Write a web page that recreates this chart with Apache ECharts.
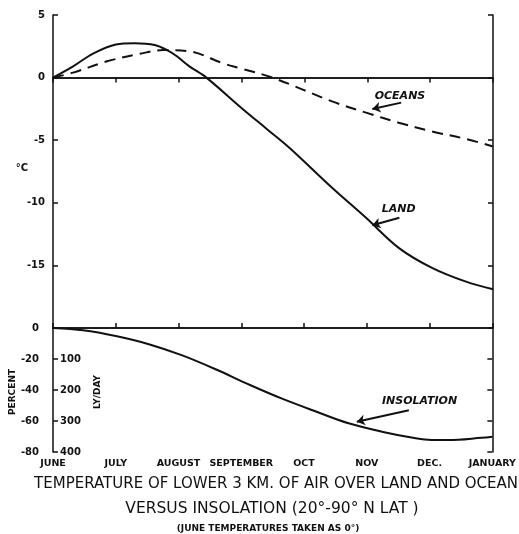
<!DOCTYPE html>
<html>
<head>
<meta charset="utf-8">
<script src="https://cdn.jsdelivr.net/npm/echarts@6/dist/echarts.min.js"></script>
<style>
html,body{margin:0;padding:0;background:#fff;}
#c{width:519px;height:534px;}
</style>
</head>
<body>
<div id="c"></div>
<script>
// ---- data (x in months after June 1) ----
const months = ['JUNE','JULY','AUGUST','SEPTEMBER','OCT','NOV','DEC.','JANUARY'];
const landMonth = [0, 0.32, 0.63, 1.0, 1.3, 1.62, 1.83, 1.97, 2.17, 2.44, 2.97, 3.4, 3.76, 4.44, 4.98, 5.5, 6.03, 6.57, 7];
const landTemp  = [0, 0.9, 1.9, 2.65, 2.75, 2.6, 2.15, 1.7, 0.9, 0, -2.3, -4.1, -5.6, -8.8, -11.2, -13.6, -15.2, -16.3, -16.9];
const oceanMonth = [0, 0.32, 0.86, 1.38, 1.75, 2.17, 2.7, 2.97, 3.49, 4.44, 4.98, 5.5, 6.03, 6.57, 7];
const oceanTemp  = [0, 0.4, 1.3, 1.9, 2.2, 2.1, 1.15, 0.75, 0, -1.9, -2.8, -3.6, -4.3, -4.9, -5.5];
const insolMonth = [0, 0.48, 1.0, 1.54, 2.06, 2.6, 3.13, 3.65, 4.19, 4.71, 5.24, 5.78, 6.03, 6.3, 6.83, 7];
const insolPct   = [0, -1.5, -5.2, -10.6, -17.7, -26.8, -36.6, -45.6, -53.9, -61.5, -66.9, -71.2, -72.3, -72.3, -70.8, -70.1];
const tempTicks = [5, 0, -5, -10, -15];
const pctTicks = [0, -20, -40, -60, -80];
const lyTicks = [100, 200, 300, 400];

const zip = (a, b) => a.map((v, i) => [v, b[i]]);
const ink = '#111';
const axisLine = {show: true, lineStyle: {color: ink, width: 1.5}};
const tick = {show: true, inside: true, length: 5, lineStyle: {color: ink, width: 1.5}};
const lblFont = {fontFamily: 'DejaVu Sans', fontWeight: 'bold', fontSize: 10, color: ink};

const chart = echarts.init(document.getElementById('c'), null, {renderer: 'canvas'});
const option = {
  backgroundColor: '#fff',
  animation: false,
  grid: [
    {left: 53, top: 15, width: 440, height: 313},
    {left: 53, top: 328, width: 440, height: 124}
  ],
  xAxis: [
    {gridIndex: 0, type: 'value', min: 0, max: 7, interval: 1, position: 'top',
     axisLine, axisTick: tick, axisLabel: {show: false}, splitLine: {show: false}},
    {gridIndex: 1, type: 'value', min: 0, max: 7, interval: 1, position: 'bottom',
     axisLine, axisTick: tick, splitLine: {show: false},
     axisLabel: Object.assign({margin: 7, formatter: v => months[v] || ''}, lblFont, {fontSize: 9.5})},
    {gridIndex: 1, type: 'value', min: 0, max: 7, interval: 1, position: 'top',
     axisLine, axisTick: {show: false}, axisLabel: {show: false}, splitLine: {show: false}}
  ],
  yAxis: [
    {gridIndex: 0, type: 'value', min: -20, max: 5, interval: 5, position: 'left',
     axisLine, axisTick: tick, splitLine: {show: false},
     axisLabel: Object.assign({margin: 8, formatter: v => tempTicks.includes(v) ? String(v) : ''}, lblFont)},
    {gridIndex: 0, type: 'value', min: -20, max: 5, interval: 5, position: 'right',
     axisLine, axisTick: tick, axisLabel: {show: false}, splitLine: {show: false}},
    {gridIndex: 1, type: 'value', min: -80, max: 0, interval: 20, position: 'left',
     axisLine, axisTick: tick, splitLine: {show: false},
     axisLabel: Object.assign({margin: 14, formatter: v => pctTicks.includes(v) ? String(v) : ''}, lblFont)},
    {gridIndex: 1, type: 'value', min: 0, max: 400, interval: 100, inverse: true, position: 'left',
     axisLine: {show: false}, axisTick: {show: false}, splitLine: {show: false},
     axisLabel: Object.assign({inside: true, margin: 7, formatter: v => lyTicks.includes(v) ? String(v) : ''}, lblFont)},
    {gridIndex: 1, type: 'value', min: -80, max: 0, interval: 20, position: 'right',
     axisLine, axisTick: tick, axisLabel: {show: false}, splitLine: {show: false}}
  ],
  series: [
    {name: 'LAND', type: 'line', xAxisIndex: 0, yAxisIndex: 0, data: zip(landMonth, landTemp),
     smooth: 0.35, showSymbol: false, symbol: 'none', lineStyle: {color: ink, width: 2},
     markLine: {silent: true, symbolSize: 8, label: {show: false},
       lineStyle: {color: ink, width: 2, type: 'solid'},
       data: [[{coord: [5.51, -11.2], symbol: 'none'}, {coord: [5.08, -11.8], symbol: 'arrow'}]]}},
    {name: 'OCEANS', type: 'line', xAxisIndex: 0, yAxisIndex: 0, data: zip(oceanMonth, oceanTemp),
     smooth: 0.35, showSymbol: false, symbol: 'none', lineStyle: {color: ink, width: 2, type: [11, 7]},
     markLine: {silent: true, symbolSize: 8, label: {show: false},
       lineStyle: {color: ink, width: 2, type: 'solid'},
       data: [
         [{coord: [5.54, -2.0], symbol: 'none'}, {coord: [5.08, -2.5], symbol: 'arrow'}],
         [{coord: [0, 0], symbol: 'none', lineStyle: {width: 1.5}}, {coord: [7, 0], symbol: 'none'}]
       ]}},
    {name: 'INSOLATION', type: 'line', xAxisIndex: 1, yAxisIndex: 2, data: zip(insolMonth, insolPct),
     smooth: 0.35, showSymbol: false, symbol: 'none', lineStyle: {color: ink, width: 2},
     markLine: {silent: true, symbolSize: 8, label: {show: false},
       lineStyle: {color: ink, width: 2, type: 'solid'},
       data: [[{coord: [5.67, -53], symbol: 'none'}, {coord: [4.84, -60.5], symbol: 'arrow'}]]}}
  ]
};
chart.setOption(option);

const annFont = 'italic bold 11px "DejaVu Sans"';
const labels = [
  {text: 'OCEANS', coord: [5.52, -1.45], grid: 0},
  {text: 'LAND', coord: [5.5, -10.5], grid: 0},
  {text: 'INSOLATION', coord: [5.84, -47], grid: 1}
];
const g = labels.map(l => {
  const p = chart.convertToPixel({xAxisIndex: l.grid === 0 ? 0 : 1, yAxisIndex: l.grid === 0 ? 0 : 2}, l.coord);
  return {type: 'text', x: p[0], y: p[1],
    style: {text: l.text, font: annFont, fill: ink, align: 'center', verticalAlign: 'middle'}};
});
const txt = (text, x, y, font, rot) => ({type: 'text', x, y, rotation: rot || 0,
  style: {text, font, fill: ink, align: 'center', verticalAlign: 'middle'}});
g.push(txt('°C', 22, 168, 'bold 10px "DejaVu Sans"'));
g.push(txt('PERCENT', 13, 392, 'bold 9px "DejaVu Sans"', Math.PI / 2));
g.push(txt('LY/DAY', 98, 392, 'bold 9px "DejaVu Sans"', Math.PI / 2));
g.push(txt('TEMPERATURE OF LOWER 3 KM. OF AIR OVER LAND AND OCEAN', 276, 484, '15px "DejaVu Sans"'));
g.push(txt('VERSUS INSOLATION (20°-90° N LAT )', 272, 509, '15.5px "DejaVu Sans"'));
g.push(txt('(JUNE TEMPERATURES TAKEN AS 0°)', 268, 529, 'bold 9px "DejaVu Sans"'));
chart.setOption({graphic: g});
</script>
</body>
</html>
